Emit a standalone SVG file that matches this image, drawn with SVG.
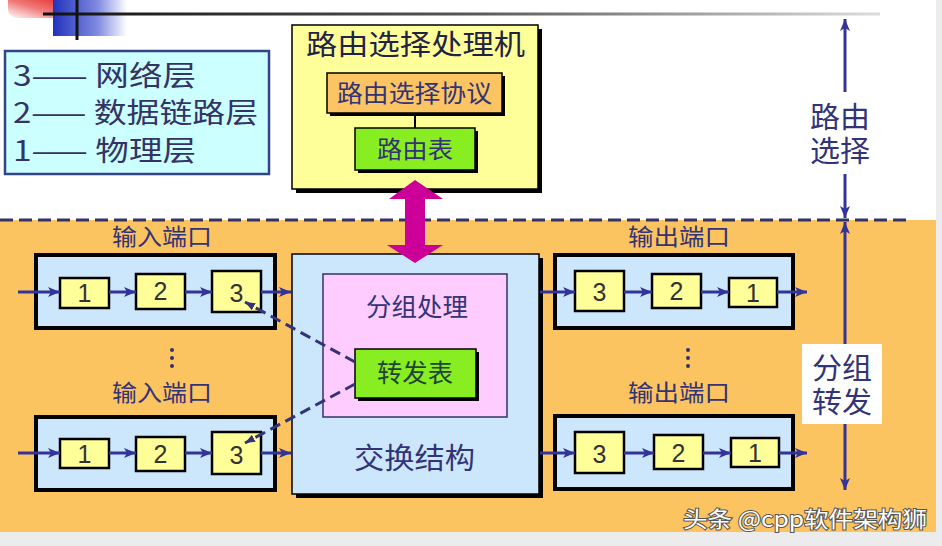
<svg xmlns="http://www.w3.org/2000/svg" width="942" height="546" viewBox="0 0 942 546">
<style>
.cjk{font-family:"Noto Sans CJK SC","Liberation Sans",sans-serif;fill:#333377}
.side{font-family:"Liberation Sans","Noto Sans CJK SC",sans-serif;fill:#333377;font-size:29px}
.num{font-family:"Liberation Sans",Arial,sans-serif;font-size:25px;fill:#333333;text-anchor:middle}
.port{fill:#CCE7FB;stroke:#000;stroke-width:4}
.cell{fill:#FFFF99;stroke:#000;stroke-width:2.5}
.shadow{fill:#000}
.arr{stroke:#333399;stroke-width:3;fill:none;marker-end:url(#ah)}
.dash{stroke:#333377;stroke-width:3;fill:none;stroke-dasharray:11 6}
</style>
<defs>
<marker id="ah" markerUnits="userSpaceOnUse" markerWidth="12" markerHeight="10" refX="12" refY="5" orient="auto">
<path d="M0,0 L12,5 L0,10 L3,5 z" fill="#333399"/>
</marker>
<marker id="ahs" markerUnits="userSpaceOnUse" markerWidth="10" markerHeight="8" refX="10" refY="4" orient="auto">
<path d="M0,0 L10,4 L0,8 z" fill="#333377"/>
</marker>
<linearGradient id="gBlue" x1="0" y1="0" x2="1" y2="0">
<stop offset="0" stop-color="#2233BB"/>
<stop offset="0.6" stop-color="#7F8AE0"/>
<stop offset="1" stop-color="#FFFFFF"/>
</linearGradient>
<linearGradient id="gRed" x1="1" y1="0" x2="0" y2="1">
<stop offset="0" stop-color="#E82A2A"/>
<stop offset="0.5" stop-color="#F07A7A"/>
<stop offset="1" stop-color="#FFFFFF"/>
</linearGradient>
<linearGradient id="gLine" gradientUnits="userSpaceOnUse" x1="43" y1="0" x2="880" y2="0">
<stop offset="0" stop-color="#111111"/>
<stop offset="0.5" stop-color="#555555"/>
<stop offset="1" stop-color="#DDDDDD"/>
</linearGradient>
</defs>

<!-- background -->
<rect x="0" y="0" width="942" height="546" fill="#FFFFFF"/>
<rect x="0" y="220" width="936" height="312" fill="#FCC460"/>
<rect x="936" y="0" width="6" height="546" fill="#ECECEC"/>
<rect x="0" y="532" width="942" height="14" fill="#ECECEC"/>

<!-- decoration -->
<g id="decoration">
<path d="M8,0 H68 V18 H20 Q8,18 8,8 Z" fill="url(#gRed)"/>
<rect x="53" y="0" width="74" height="36" fill="url(#gBlue)"/>
<line x1="43" y1="14" x2="880" y2="14" stroke="url(#gLine)" stroke-width="3"/>
<line x1="77" y1="0" x2="77" y2="40" stroke="#111" stroke-width="3"/>
</g>

<!-- dashed separator -->
<line x1="0" y1="220" x2="906" y2="220" stroke="#333366" stroke-width="3" stroke-dasharray="13 6"/>

<g id="legend">
<rect x="5" y="51" width="264" height="123" fill="#CCFFFF" stroke="#334488" stroke-width="2.5"/>
<text class="cjk" x="13" y="86" font-size="28" textLength="183" lengthAdjust="spacingAndGlyphs" style="fill:#333366">3—— 网络层</text>
<text class="cjk" x="13" y="123" font-size="28" textLength="245" lengthAdjust="spacingAndGlyphs" style="fill:#333366">2—— 数据链路层</text>
<text class="cjk" x="13" y="161" font-size="28" textLength="183" lengthAdjust="spacingAndGlyphs" style="fill:#333366">1—— 物理层</text>
</g>

<g id="routing-processor">
<rect class="shadow" x="296" y="29" width="246" height="164"/>
<rect x="292" y="25" width="246" height="164" fill="#FFFF99" stroke="#000" stroke-width="1.5"/>
<text class="cjk" x="306" y="55" font-size="28" textLength="219" lengthAdjust="spacingAndGlyphs" style="fill:#222244">路由选择处理机</text>
</g>

<g id="routing-protocol">
<rect class="shadow" x="330" y="76" width="175" height="40"/>
<rect x="327" y="73" width="175" height="40" fill="#FCC462" stroke="#000" stroke-width="1.5"/>
<text class="cjk" x="337" y="102" font-size="24" textLength="155" lengthAdjust="spacingAndGlyphs">路由选择协议</text>
</g>

<g id="routing-table">
<rect class="shadow" x="358" y="131" width="120" height="42"/>
<rect x="355" y="128" width="120" height="42" fill="#88EE22" stroke="#000" stroke-width="1.5"/>
<text class="cjk" x="377" y="158" font-size="24" textLength="76" lengthAdjust="spacingAndGlyphs">路由表</text>
</g>

<g id="switch-fabric">
<rect class="shadow" x="296" y="258" width="247" height="240"/>
<rect x="292" y="254" width="247" height="240" fill="#CCE7FB" stroke="#000" stroke-width="1.5"/>
<text class="cjk" x="354" y="469" font-size="29" textLength="121" lengthAdjust="spacingAndGlyphs">交换结构</text>
</g>

<g id="packet-processing">
<rect x="323" y="274" width="184" height="143" fill="#FFCCFF" stroke="#333366" stroke-width="1.5"/>
<text class="cjk" x="366" y="316" font-size="25" textLength="102" lengthAdjust="spacingAndGlyphs">分组处理</text>
</g>

<g id="forwarding-table">
<rect class="shadow" x="358" y="352" width="121" height="49"/>
<rect x="355" y="349" width="121" height="49" fill="#88EE22" stroke="#000" stroke-width="1.5"/>
<text class="cjk" x="377" y="382" font-size="25" textLength="76" lengthAdjust="spacingAndGlyphs" style="fill:#224433">转发表</text>
</g>

<g id="input-port-1">
<text class="cjk" x="112" y="245" font-size="23" textLength="100" lengthAdjust="spacingAndGlyphs">输入端口</text>
<rect class="port" x="36" y="255" width="239" height="73"/>
<rect class="cell" x="60" y="278" width="49" height="30"/>
<text class="num" x="84.5" y="302">1</text>
<rect class="cell" x="136" y="274" width="49" height="35"/>
<text class="num" x="160.5" y="300">2</text>
<rect class="cell" x="212" y="271" width="49" height="41"/>
<text class="num" x="236.5" y="302">3</text>
</g>

<g id="input-port-2">
<text class="cjk" x="112" y="401" font-size="23" textLength="100" lengthAdjust="spacingAndGlyphs">输入端口</text>
<rect class="port" x="36" y="417" width="239" height="73"/>
<rect class="cell" x="60" y="439" width="49" height="29"/>
<text class="num" x="84.5" y="463">1</text>
<rect class="cell" x="136" y="437" width="49" height="34"/>
<text class="num" x="160.5" y="463">2</text>
<rect class="cell" x="212" y="432" width="49" height="42"/>
<text class="num" x="236.5" y="464">3</text>
</g>

<g id="input-dots" fill="#333366">
<circle cx="172" cy="350" r="2"/>
<circle cx="172" cy="358" r="2"/>
<circle cx="172" cy="366" r="2"/>
</g>

<g id="output-port-1">
<text class="cjk" x="628" y="245" font-size="23" textLength="102" lengthAdjust="spacingAndGlyphs">输出端口</text>
<rect class="port" x="555" y="255" width="238" height="73"/>
<rect class="cell" x="575" y="271" width="49" height="40"/>
<text class="num" x="599.5" y="301">3</text>
<rect class="cell" x="652" y="274" width="49" height="34"/>
<text class="num" x="676.5" y="300">2</text>
<rect class="cell" x="729" y="278" width="48" height="29"/>
<text class="num" x="753" y="302">1</text>
</g>

<g id="output-port-2">
<text class="cjk" x="628" y="401" font-size="23" textLength="102" lengthAdjust="spacingAndGlyphs">输出端口</text>
<rect class="port" x="555" y="416" width="238" height="73"/>
<rect class="cell" x="575" y="432" width="49" height="41"/>
<text class="num" x="599.5" y="463">3</text>
<rect class="cell" x="654" y="435" width="49" height="34"/>
<text class="num" x="678.5" y="462">2</text>
<rect class="cell" x="731" y="438" width="48" height="29"/>
<text class="num" x="755" y="462">1</text>
</g>

<g id="output-dots" fill="#333366">
<circle cx="688" cy="350" r="2"/>
<circle cx="688" cy="358" r="2"/>
<circle cx="688" cy="366" r="2"/>
</g>

<g id="label-routing">
<text class="side" x="810" y="128" textLength="60" lengthAdjust="spacingAndGlyphs">路由</text>
<text class="side" x="810" y="162" textLength="60" lengthAdjust="spacingAndGlyphs">选择</text>
</g>

<g id="label-forwarding">
<rect x="802" y="344" width="80" height="80" fill="#FFFFFF"/>
<text class="side" x="812" y="379" textLength="60" lengthAdjust="spacingAndGlyphs">分组</text>
<text class="side" x="812" y="413" textLength="60" lengthAdjust="spacingAndGlyphs">转发</text>
</g>

<g id="connectors">
<line x1="415" y1="113" x2="415" y2="128" stroke="#000" stroke-width="2"/>
<polygon points="415,180 443,199 425,199 425,245 443,245 415,263 387,245 405,245 405,199 389,199" fill="#CC0099"/>
<line class="arr" x1="18" y1="292" x2="60" y2="292"/>
<line class="arr" x1="109" y1="292" x2="136" y2="292"/>
<line class="arr" x1="185" y1="292" x2="212" y2="292"/>
<line class="arr" x1="261" y1="292" x2="291" y2="292"/>
<line class="arr" x1="18" y1="453" x2="60" y2="453"/>
<line class="arr" x1="109" y1="453" x2="136" y2="453"/>
<line class="arr" x1="185" y1="453" x2="212" y2="453"/>
<line class="arr" x1="261" y1="453" x2="291" y2="453"/>
<line class="arr" x1="540" y1="292" x2="575" y2="292"/>
<line class="arr" x1="624" y1="292" x2="652" y2="292"/>
<line class="arr" x1="701" y1="292" x2="729" y2="292"/>
<line class="arr" x1="777" y1="292" x2="807" y2="292"/>
<line class="arr" x1="540" y1="453" x2="575" y2="453"/>
<line class="arr" x1="624" y1="453" x2="654" y2="453"/>
<line class="arr" x1="703" y1="453" x2="731" y2="453"/>
<line class="arr" x1="779" y1="453" x2="807" y2="453"/>
<line class="dash" x1="355" y1="362" x2="245" y2="302" marker-end="url(#ahs)"/>
<line class="dash" x1="355" y1="384" x2="245" y2="443" marker-end="url(#ahs)"/>
<line class="arr" x1="845" y1="92" x2="845" y2="19"/>
<line class="arr" x1="845" y1="174" x2="845" y2="218"/>
<line class="arr" x1="845" y1="344" x2="845" y2="222"/>
<line class="arr" x1="845" y1="424" x2="845" y2="490"/>
</g>

<g id="watermark">
<text x="683" y="527" font-family="Noto Sans CJK SC, Liberation Sans, sans-serif" font-size="22" textLength="244" lengthAdjust="spacingAndGlyphs" fill="#FFFFFF" stroke="#555555" stroke-width="2" paint-order="stroke">头条 @cpp软件架构狮</text>
</g>
</svg>
